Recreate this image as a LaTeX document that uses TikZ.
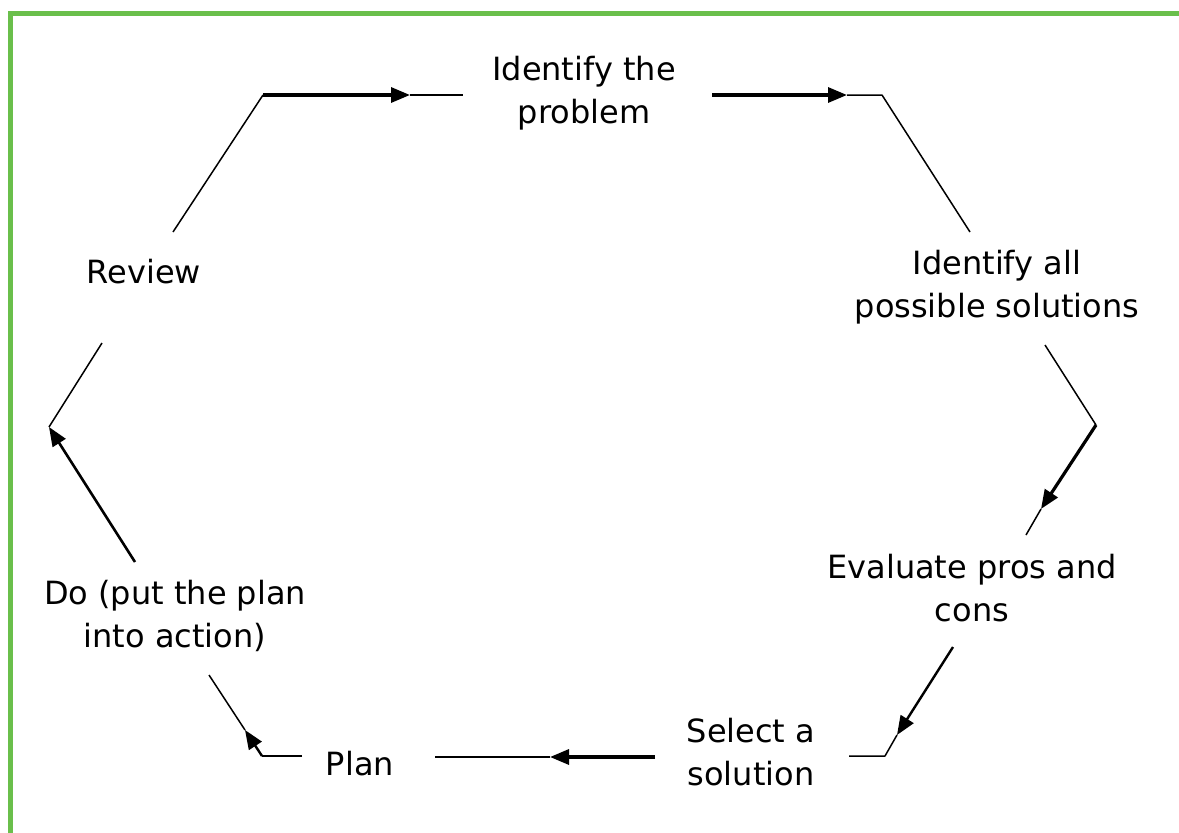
\documentclass[tikz,border=0pt]{standalone}
\usepackage{fontspec}
\setmainfont{DejaVu Sans}
\usetikzlibrary{arrows.meta}
\definecolor{framegreen}{HTML}{6ABF4B}
\begin{document}
\begin{tikzpicture}[x=1pt,y=-1pt,
  lbl/.style={font=\fontsize{32}{43}\selectfont, align=center, inner sep=0pt},
  thinline/.style={line width=1.5pt, line join=round},
  thickline/.style={line width=3.2pt, line join=round},
  arr/.style={-{Triangle[length=19pt,width=15pt]}}]
\useasboundingbox (0,0) rectangle (1179,833);
\fill[white] (0,0) rectangle (1179,833);
% green frame (top and left)
\draw[framegreen, line width=5pt] (10.5,840) -- (10.5,13.5) -- (1190,13.5);

% labels
\node[lbl] (prob) at (584,93) {Identify the\\problem};
\node[lbl] (sols) at (997,287) {Identify all\\possible solutions};
\node[lbl] (eval) at (972,588) {Evaluate pros and\\cons};
\node[lbl] (sel) at (751,752) {Select a\\solution};
\node[lbl] (plan) at (360,764) {Plan};
\node[lbl] (do) at (175,616) {Do (put the plan\\into action)};
\node[lbl] (rev) at (144,272) {Review};

% connector points
\coordinate (c1) at (263,95);
\coordinate (e0) at (173,232);
\coordinate (a1) at (410,95);
\coordinate (e1) at (463,95);
\coordinate (e2) at (712,95);
\coordinate (a2) at (847,95);
\coordinate (c2) at (882,95);
\coordinate (e3) at (970,232);
\coordinate (e4) at (1045,345);
\coordinate (c3) at (1096,425);
\coordinate (a3) at (1041,509);
\coordinate (e5) at (1026,535);
\coordinate (e6) at (953,647);
\coordinate (a4) at (897,735);
\coordinate (c4) at (885,756);
\coordinate (e7) at (849,756);
\coordinate (e8) at (655,757);
\coordinate (a5) at (550,757);
\coordinate (e9) at (435,757);
\coordinate (e10) at (302,756);
\coordinate (c5) at (262,756);
\coordinate (a6) at (245,730);
\coordinate (e11) at (209,675);
\coordinate (e12) at (135,562);
\coordinate (c6) at (49,427);
\coordinate (e13) at (102,343);

% Review -> Identify the problem
\draw[thinline] (e0) -- (c1);
\draw[thickline, arr] (c1) -- (a1);
\draw[thinline] (a1) -- (e1);
% Identify the problem -> Identify all possible solutions
\draw[thickline, arr] (e2) -- (a2);
\draw[thinline] (a2) -- (c2) -- (e3);
% Identify all -> Evaluate
\draw[thinline] (e4) -- (c3);
\draw[thickline, arr] (c3) -- (a3);
\draw[thinline] (a3) -- (e5);
% Evaluate -> Select
\draw[thickline, line width=2.4pt, arr] (e6) -- (a4);
\draw[thinline] (a4) -- (c4) -- (e7);
% Select -> Plan
\draw[thickline, arr] (e8) -- (a5);
\draw[thinline] (a5) -- (e9);
% Plan -> Do
\draw[thinline] (e10) -- (c5);
\draw[thickline, line width=2.4pt, arr] (c5) -- (a6);
\draw[thinline] (a6) -- (e11);
% Do -> Review
\draw[thickline, line width=2.6pt, arr] (e12) -- (c6);
\draw[thinline] (c6) -- (e13);
\end{tikzpicture}
\end{document}
